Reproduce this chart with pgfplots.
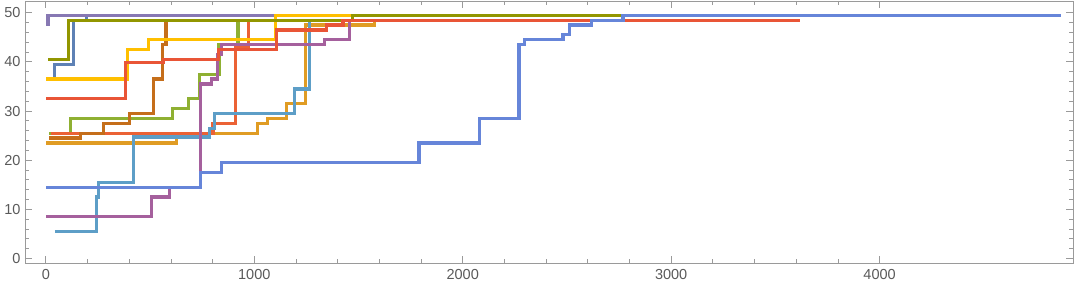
\documentclass[border=0pt]{standalone}
\usepackage{fontspec}
\setmainfont{Liberation Sans}
\usepackage{pgfplots}
\pgfplotsset{compat=1.18}
\definecolor{c1}{HTML}{5E81B5}
\definecolor{c2}{HTML}{E09C24}
\definecolor{c3}{HTML}{8FB032}
\definecolor{c4}{HTML}{EB6235}
\definecolor{c5}{HTML}{8778B3}
\definecolor{c6}{HTML}{C56E1A}
\definecolor{c7}{HTML}{5D9EC7}
\definecolor{c8}{HTML}{FFBF00}
\definecolor{c9}{HTML}{A5609D}
\definecolor{c10}{HTML}{929600}
\definecolor{c11}{HTML}{E95536}
\definecolor{c12}{HTML}{6685D9}
\definecolor{framegray}{HTML}{9A9A9A}
\definecolor{labelgray}{HTML}{5A5A5A}
\begin{document}
\begin{tikzpicture}
\path[use as bounding box] (-25pt,-24.7pt) rectangle (1055pt,263.3pt);
\begin{axis}[at={(0,0)}, anchor=south west, scale only axis,
  width=1048pt, height=262.3pt,
  xmin=-100, xmax=4928, ymin=-1, ymax=52.4,
  xtick={0,1000,2000,3000,4000}, ytick={0,10,20,30,40,50},
  minor x tick num=4, minor y tick num=4,
  tick align=inside, major tick length=7pt, minor tick length=4pt,
  axis line style={color=framegray, line width=0.8pt},
  every tick/.style={color=framegray, line width=0.8pt},
  tick label style={font=\fontsize{14.5}{16}\selectfont, color=labelgray},
  xticklabel style={yshift=-3pt},
  yticklabel style={xshift=-1pt},
  /pgf/number format/assume math mode=true,
  /pgf/number format/1000 sep={},
  every axis plot/.append style={const plot, line width=3.2pt},
]
\addplot[c1] coordinates {(3,36.5) (43,39.5) (134,48.5) (195,49.5) (1000,49.5)};
\addplot[c2] coordinates {(3,23.5) (627,25.5) (1014,27.5) (1062,28.5) (1154,31.5) (1245,47.5) (1578,48.5) (1620,48.5)};
\addplot[c3] coordinates {(16,25.5) (120,28.5) (606,30.5) (683,32.5) (739,37.5) (831,43.5) (922,48.5) (1200,48.5)};
\addplot[c4] coordinates {(27,25.5) (802,27.5) (910,43) (973,48.5) (1400,48.5)};
\addplot[c5] coordinates {(3,47.6) (10,49.5) (1098,49.5)};
\addplot[c6] coordinates {(16,24.5) (166,25.5) (275,27.5) (403,29.5) (515,36.5) (560,43.5) (576,48.5) (1000,48.5)};
\addplot[c7] coordinates {(43,5.5) (243,12.5) (254,15.5) (419,24.7) (787,26.5) (810,29.5) (1194,34.5) (1266,48.5) (1400,48.5)};
\addplot[c8] coordinates {(3,36.5) (390,42.5) (494,44.5) (1101,49.5) (1467,49.5)};
\addplot[c9] coordinates {(3,8.5) (507,12.5) (595,14.5) (743,35.5) (795,36.5) (822,41.5) (842,43.5) (1338,44.5) (1458,48.5) (1500,48.5)};
\addplot[c10] coordinates {(11,40.5) (107,48.5) (1473,49.5) (2761,49.5)};
\addplot[c11] coordinates {(3,32.5) (384,39.8) (566,40.5) (827,42.5) (1106,46.5) (1346,47.5) (1426,48.5) (3620,48.5)};
\addplot[c12] coordinates {(3,14.5) (743,17.5) (842,19.5) (1790,23.5) (2082,28.5) (2270,43.5) (2297,44.5) (2481,45.5) (2513,47.5) (2617,48.5) (2769,49.5) (4868,49.5)};
\end{axis}
\end{tikzpicture}
\end{document}
